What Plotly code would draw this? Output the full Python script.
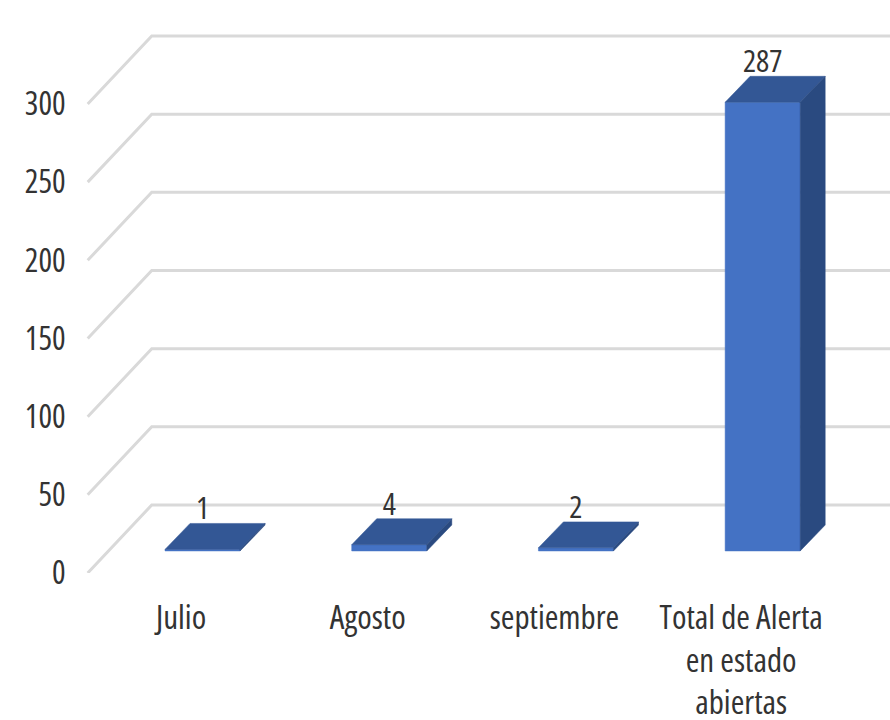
import plotly.graph_objects as go

categories = ["Julio", "Agosto", "septiembre", "Total de Alerta<br>en estado<br>abiertas"]
values = [1, 4, 2, 287]
y_ticks = [0, 50, 100, 150, 200, 250, 300]

FONT = "Open Sans"
TEXT = "#333333"
GRID = "#d9d9d9"
FRONT = "#4472c4"
TOP = "#335795"
SIDE = "#2a4a80"

# Oblique projection of the chart's depth, in axis units
WALL_DX, WALL_DY = 0.343, 43.5
BAR_X0, BAR_W = 0.115, 0.402
BAR_BASE = 14.1
BAR_DX, BAR_DY = 0.134, 16.6
LABEL_DROP = 2.3
X_MIN, X_MAX = -0.552, 3.797

fig = go.Figure()

# Walls: gridlines running along the back and diagonally up the left side
gx, gy = [], []
for v in y_ticks:
    gx += [-0.5, -0.5 + WALL_DX, X_MAX, None]
    gy += [v, v + WALL_DY, v + WALL_DY, None]
fig.add_trace(go.Scatter(x=gx, y=gy, mode="lines", line=dict(color=GRID, width=3),
                         hoverinfo="skip", showlegend=False))

def poly(xs, ys, color):
    fig.add_trace(go.Scatter(x=xs + xs[:1], y=ys + ys[:1], mode="lines", fill="toself",
                             fillcolor=color, line=dict(color=color, width=0.5),
                             hoverinfo="skip", showlegend=False))

# Bars: front face, top face, side face
for i, v in enumerate(values):
    xl = i + BAR_X0 - BAR_W / 2
    xr = xl + BAR_W
    y0, y1 = BAR_BASE, BAR_BASE + v
    poly([xl, xr, xr, xl], [y0, y0, y1, y1], FRONT)
    poly([xl, xr, xr + BAR_DX, xl + BAR_DX], [y1, y1, y1 + BAR_DY, y1 + BAR_DY], TOP)
    poly([xr, xr + BAR_DX, xr + BAR_DX, xr], [y0, y0 + BAR_DY, y1 + BAR_DY, y1], SIDE)

# Value labels above each bar
fig.add_trace(go.Scatter(
    x=[i + BAR_X0 for i in range(len(values))],
    y=[BAR_BASE + v + BAR_DY - LABEL_DROP for v in values],
    mode="text", text=[str(v) for v in values], textposition="top center",
    textfont=dict(family=FONT, size=31, color=TEXT),
    hoverinfo="skip", showlegend=False, cliponaxis=False))

fig.update_layout(
    width=890, height=720, autosize=False,
    margin=dict(l=78, r=0, t=0, b=147, pad=0),
    paper_bgcolor="white", plot_bgcolor="white", showlegend=False,
    xaxis=dict(range=[X_MIN, X_MAX], tickmode="array", tickvals=list(range(len(categories))),
               ticktext=categories, showgrid=False, zeroline=False, showline=False,
               ticks="outside", ticklen=15, tickcolor="rgba(0,0,0,0)", tickangle=0,
               tickfont=dict(family=FONT, size=33, color=TEXT), automargin=False),
    yaxis=dict(range=[0, 366.5], tickmode="array", tickvals=y_ticks,
               ticktext=[str(t) for t in y_ticks], showgrid=False, zeroline=False, showline=False,
               ticks="outside", ticklen=5, tickcolor="rgba(0,0,0,0)",
               tickfont=dict(family=FONT, size=32, color=TEXT), automargin=False),
)

fig.write_html("out.html", config={"displayModeBar": False}, post_script=(
    "document.body.style.margin='0';"
    "var s=document.createElement('style');"
    "s.textContent='text{font-stretch:62.5%;}';"
    "document.head.appendChild(s);"
))
